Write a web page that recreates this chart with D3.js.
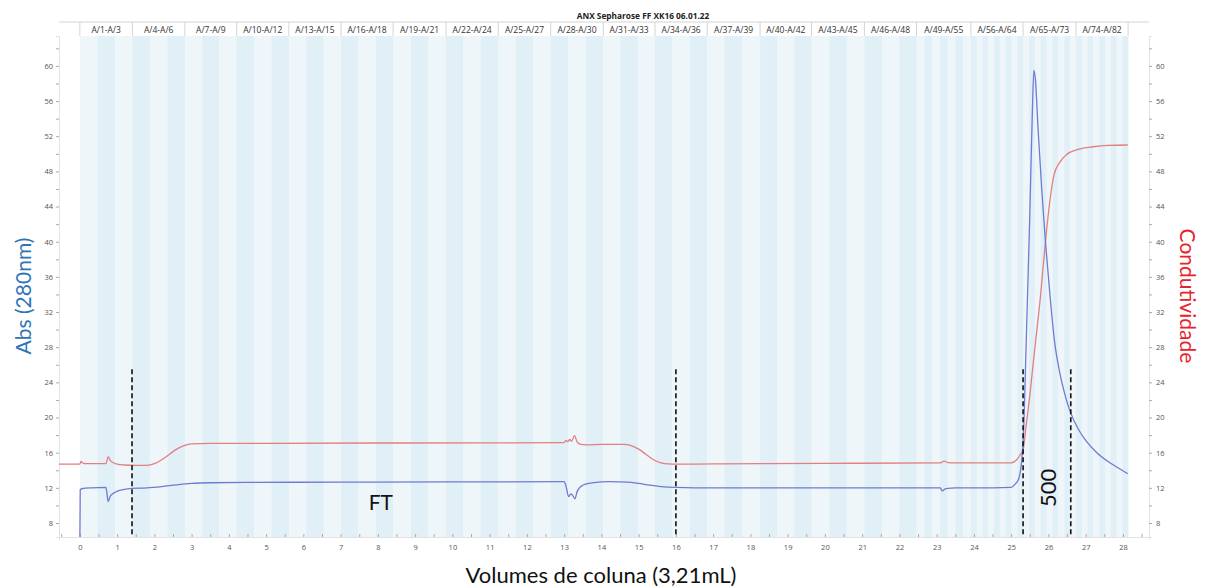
<!DOCTYPE html>
<html>
<head>
<meta charset="utf-8">
<script src="https://cdn.jsdelivr.net/npm/d3@7"></script>
<style>
  body { margin: 0; background: #fff; }
  svg { display: block; font-family: 'Open Sans', sans-serif; }
  .tick text { fill: #555; }
</style>
</head>
<body>
<svg class="chrom"></svg>
<script>
//DATA
const fracLabels = ['A/1-A/3','A/4-A/6','A/7-A/9','A/10-A/12','A/13-A/15','A/16-A/18','A/19-A/21',
  'A/22-A/24','A/25-A/27','A/28-A/30','A/31-A/33','A/34-A/36','A/37-A/39','A/40-A/42','A/43-A/45',
  'A/46-A/48','A/49-A/55','A/56-A/64','A/65-A/73','A/74-A/82'];
const fracEdges = [0, 1.41, 2.82, 4.21, 5.61, 7.01, 8.41, 9.83, 11.23, 12.64, 14.05, 15.44, 16.84,
  18.26, 19.64, 21.06, 22.46, 23.92, 25.32, 26.74, 28.14];

const uvVol = [0, 0.01, 0.05, 0.3, 0.7, 0.72, 0.76, 0.82, 0.95, 1.1, 1.4, 1.8, 2.2, 2.6, 3.0, 3.5, 4.5, 7, 10,
  13.0, 13.05, 13.12, 13.18, 13.22, 13.29, 13.35, 13.5, 13.8, 14.2, 14.7, 15.0, 15.3, 15.6, 16.0, 17, 20,
  23.1, 23.15, 23.22, 23.3, 23.5, 24.5, 25.0, 25.1, 25.2, 25.28, 25.33, 25.4, 25.5, 25.57, 25.61, 25.65,
  25.72, 25.82, 25.92, 26.04, 26.16, 26.3, 26.45, 26.6, 26.8, 27.0, 27.3, 27.6, 27.9, 28.13];
const uvAbs = [6.0, 11.8, 11.9, 12.0, 12.05, 11.6, 10.45, 11.1, 11.5, 11.75, 11.95, 12.0, 12.15, 12.35, 12.5,
  12.58, 12.62, 12.65, 12.68, 12.7, 12.2, 11.0, 11.3, 11.2, 10.75, 11.6, 12.3, 12.6, 12.7, 12.65, 12.5, 12.3,
  12.15, 12.06, 12.0, 12.0, 12.0, 11.65, 11.85, 11.95, 12.0, 12.0, 12.05, 12.4, 13.0, 15.0, 18.0, 28.0,
  43.0, 55.0, 59.5, 58.5, 53.0, 46.0, 40.0, 34.0, 28.8, 25.2, 22.5, 20.5, 18.7, 17.4, 16.0, 15.0, 14.2, 13.6];

const condVol = [-0.6, 0.0, 0.03, 0.07, 0.12, 0.7, 0.73, 0.76, 0.82, 0.9, 1.0, 1.2, 1.5, 1.8, 2.0, 2.2, 2.4,
  2.6, 2.8, 3.0, 3.5, 5, 8, 11, 13.0, 13.05, 13.1, 13.15, 13.2, 13.28, 13.35, 13.45, 13.6, 14.0, 14.6, 14.8,
  15.0, 15.2, 15.4, 15.6, 15.8, 16.0, 17, 20, 23.1, 23.2, 23.3, 23.5, 25.0, 25.15, 25.25, 25.32, 25.4, 25.5,
  25.6, 25.66, 25.78, 25.92, 26.05, 26.15, 26.3, 26.48, 26.8, 27.2, 27.6, 28.13];
const condVal = [14.7, 14.7, 15.0, 14.85, 14.75, 14.75, 15.1, 15.55, 15.1, 14.85, 14.7, 14.6, 14.55, 14.55,
  14.75, 15.2, 15.8, 16.4, 16.8, 17.0, 17.05, 17.05, 17.1, 17.12, 17.15, 17.4, 17.25, 17.5, 17.3, 17.95, 17.2,
  16.95, 16.9, 16.95, 16.95, 16.8, 16.4, 15.8, 15.2, 14.85, 14.72, 14.7, 14.72, 14.78, 14.85, 15.05, 14.88,
  14.85, 14.85, 15.2, 15.8, 16.3, 19.0, 22.5, 26.5, 28.8, 33.5, 40.0, 45.0, 47.6, 49.0, 49.9, 50.5, 50.8,
  50.95, 51.0];

const cutVol = [1.40, 16.0, 25.32, 26.6];
const cutTop = 25.5;
const notes = [
  {text: 'FT', vol: 8.08, val: 9.5, rot: 0},
  {text: '500', vol: 26.2, val: 12.0, rot: -90}
];

//INITIALIZING CANVAS
const size = {w: 1205, h: 587};
const plot = {left: 59, right: 1149, top: 36, bottom: 537, header: 22};
const svg = d3.select('svg.chrom').attr('width', size.w).attr('height', size.h);

const x = d3.scaleLinear().domain([-0.56, 28.7]).range([plot.left, plot.right]);
const y = d3.scaleLinear().domain([6.41, 63.4]).range([plot.bottom, plot.top]);

//STRIPES FOR FRACTIONS
let fractions = [];
fracLabels.forEach((lab, i) => {
  let nums = lab.match(/\d+/g).map(Number);
  let n = nums[1] - nums[0] + 1;
  let w = (fracEdges[i + 1] - fracEdges[i]) / n;
  for (let k = 0; k < n; k++) {
    fractions.push({start: fracEdges[i] + k * w, end: fracEdges[i] + (k + 1) * w, idx: nums[0] + k});
  }
});

svg.append('g').selectAll('rect')
  .data(fractions)
  .enter()
  .append('rect')
  .attr('x', d => x(d.start))
  .attr('width', d => x(d.end) - x(d.start) + 0.3)
  .attr('y', plot.top)
  .attr('height', plot.bottom - plot.top)
  .attr('fill', d => d.idx % 2 ? '#eef6fa' : '#e1eff7');

//HEADER
const header = svg.append('g');
header.append('line')
  .attr('x1', plot.left).attr('x2', plot.right)
  .attr('y1', plot.header).attr('y2', plot.header)
  .attr('stroke', '#d4d4d4');
header.selectAll('line.sep')
  .data(fracEdges)
  .enter()
  .append('line')
  .attr('class', 'sep')
  .attr('x1', d => x(d)).attr('x2', d => x(d))
  .attr('y1', plot.header).attr('y2', plot.top)
  .attr('stroke', '#d4d4d4');
header.selectAll('text')
  .data(fracLabels)
  .enter()
  .append('text')
  .attr('x', (d, i) => (x(fracEdges[i]) + x(fracEdges[i + 1])) / 2)
  .attr('y', 32.5)
  .attr('text-anchor', 'middle')
  .attr('font-size', 8.5)
  .attr('fill', '#333')
  .text(d => d);

svg.append('text')
  .attr('x', 643).attr('y', 19)
  .attr('text-anchor', 'middle')
  .attr('font-size', 8.3)
  .attr('font-weight', 'bold')
  .attr('fill', '#222')
  .text('ANX Sepharose FF XK16 06.01.22');

//AXES
const yTicks = d3.range(8, 63, 2);
const leftAxis = svg.append('g')
  .attr('transform', `translate(${plot.left},0)`)
  .call(d3.axisLeft(y).tickValues(yTicks).tickSize(3).tickPadding(3)
    .tickFormat(d => d % 4 === 0 ? d : ''));
const rightAxis = svg.append('g')
  .attr('transform', `translate(${plot.right},0)`)
  .call(d3.axisRight(y).tickValues(yTicks).tickSize(3).tickPadding(4)
    .tickFormat(d => d % 4 === 0 ? d : ''));
const bottomAxis = svg.append('g')
  .attr('transform', `translate(0,${plot.bottom})`)
  .call(d3.axisBottom(x).tickValues(d3.range(-0.5, 28.6, 0.5)).tickSize(3).tickPadding(5)
    .tickFormat(d => Number.isInteger(d) ? d : ''));

[leftAxis, rightAxis, bottomAxis].forEach(a => {
  a.select('.domain').attr('stroke', '#e2e2e2');
  a.selectAll('.tick line').attr('stroke', '#aaa');
  a.selectAll('.tick text').attr('font-size', 7.5).attr('font-family', 'Open Sans, sans-serif');
});
bottomAxis.selectAll('.tick line').attr('y2', -3);

//CURVES
svg.append('clipPath').attr('id', 'clip')
  .append('rect')
  .attr('x', plot.left).attr('y', plot.top)
  .attr('width', plot.right - plot.left).attr('height', plot.bottom - plot.top);

const line = d3.line()
  .x(d => x(d[0]))
  .y(d => y(d[1]))
  .curve(d3.curveMonotoneX);

const curves = svg.append('g').attr('clip-path', 'url(#clip)');
curves.append('path')
  .datum(d3.zip(condVol, condVal))
  .attr('d', line)
  .attr('fill', 'none')
  .attr('stroke', '#e27f81')
  .attr('stroke-width', 1.3);
curves.append('path')
  .datum(d3.zip(uvVol, uvAbs))
  .attr('d', line)
  .attr('fill', 'none')
  .attr('stroke', '#6f7bd2')
  .attr('stroke-width', 1.3);

//CUT LINES
svg.append('g').selectAll('line')
  .data(cutVol)
  .enter()
  .append('line')
  .attr('x1', d => x(d)).attr('x2', d => x(d))
  .attr('y1', y(cutTop)).attr('y2', plot.bottom)
  .attr('stroke', '#111')
  .attr('stroke-width', 1.6)
  .attr('stroke-dasharray', '5,3');

//ANNOTATIONS
svg.append('g').selectAll('text')
  .data(notes)
  .enter()
  .append('text')
  .attr('transform', d => `translate(${x(d.vol)},${y(d.val)}) rotate(${d.rot})`)
  .attr('text-anchor', 'middle')
  .attr('font-family', 'Lato, sans-serif')
  .attr('font-size', d => d.rot ? 22 : 21)
  .attr('fill', '#111')
  .text(d => d.text);

//AXIS TITLES
svg.append('text')
  .attr('transform', `translate(31,296) rotate(-90)`)
  .attr('text-anchor', 'middle')
  .attr('font-family', 'Lato, sans-serif')
  .attr('font-size', 21)
  .attr('fill', '#2e75b6')
  .text('Abs (280nm)');
svg.append('text')
  .attr('transform', `translate(1180,296) rotate(90)`)
  .attr('text-anchor', 'middle')
  .attr('font-family', 'Lato, sans-serif')
  .attr('font-size', 21)
  .attr('fill', '#e8212a')
  .text('Condutividade');
svg.append('text')
  .attr('x', 601).attr('y', 583)
  .attr('text-anchor', 'middle')
  .attr('font-family', 'Lato, sans-serif')
  .attr('font-size', 22)
  .attr('fill', '#111')
  .text('Volumes de coluna (3,21mL)');
</script>
</body>
</html>
